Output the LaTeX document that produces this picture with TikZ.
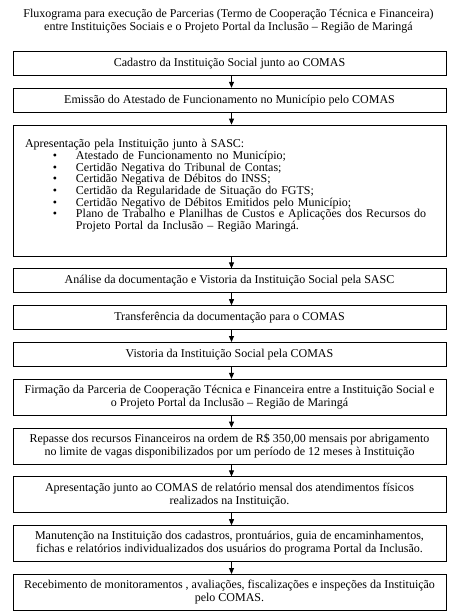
\documentclass[tikz,border=0pt]{standalone}
\usepackage{fontspec}
\setmainfont{Liberation Serif}
\usetikzlibrary{positioning, arrows.meta}

\begin{document}
\begin{tikzpicture}[x=1pt, y=1pt, >={Triangle[width=5pt, length=6pt]},
    node distance=12pt, font=\fontsize{12}{13}\selectfont,
    box/.style={draw, line width=0.8pt, minimum width=433pt,
                minimum height=24pt, inner sep=2pt, align=center},
    tallbox/.style={box, minimum height=36pt}]
  \useasboundingbox (0,0) rectangle (457,-613);

  % Title
  \node[align=center] (title) at (228.5,-21.5) {Fluxograma para execução de Parcerias (Termo de Cooperação Técnica e Financeira)\\
    entre Instituições Sociais e o Projeto Portal da Inclusão – Região de Maringá};

  % Steps
  \node[box, anchor=north] (s1) at (229.5,-51) {Cadastro da Instituição Social junto ao COMAS};
  \node[box, below=of s1] (s2) {Emissão do Atestado de Funcionamento no Município pelo COMAS};
  \node[box, below=of s2, minimum height=131pt, text width=409pt, inner xsep=12pt,
        text height=8.5pt, text depth=94pt,
        align=left, font=\fontsize{12}{11.7}\selectfont] (s3) {%
    Apresentação pela Instituição junto à SASC:\\
    \hspace*{28pt}\makebox[23pt][l]{\textbullet}Atestado de Funcionamento no Município;\\
    \hspace*{28pt}\makebox[23pt][l]{\textbullet}Certidão Negativa do Tribunal de Contas;\\
    \hspace*{28pt}\makebox[23pt][l]{\textbullet}Certidão Negativa de Débitos do INSS;\\
    \hspace*{28pt}\makebox[23pt][l]{\textbullet}Certidão da Regularidade de Situação do FGTS;\\
    \hspace*{28pt}\makebox[23pt][l]{\textbullet}Certidão Negativo de Débitos Emitidos pelo Município;\\
    \hspace*{28pt}\makebox[23pt][l]{\textbullet}Plano de Trabalho e Planilhas de Custos e Aplicações dos Recursos do\\
    \hspace*{51pt}Projeto Portal da Inclusão – Região Maringá.};
  \node[box, below=of s3] (s4) {Análise da documentação e Vistoria da Instituição Social pela SASC};
  \node[box, below=of s4] (s5) {Transferência da documentação para o COMAS};
  \node[box, below=of s5] (s6) {Vistoria da Instituição Social pela COMAS};
  \node[tallbox, below=of s6] (s7) {Firmação da Parceria de Cooperação Técnica e Financeira entre a Instituição Social e\\
    o Projeto Portal da Inclusão – Região de Maringá};
  \node[tallbox, below=of s7] (s8) {Repasse dos recursos Financeiros na ordem de R\$ 350,00 mensais por abrigamento\\
    no limite de vagas disponibilizados por um período de 12 meses à Instituição};
  \node[tallbox, below=of s8] (s9) {Apresentação junto ao COMAS de relatório mensal dos atendimentos físicos\\
    realizados na Instituição.};
  \node[tallbox, below=of s9] (s10) {Manutenção na Instituição dos cadastros, prontuários, guia de encaminhamentos,\\
    fichas e relatórios individualizados dos usuários do programa Portal da Inclusão.};
  \node[tallbox, below=of s10] (s11) {Recebimento de monitoramentos , avaliações, fiscalizações e inspeções da Instituição\\
    pelo COMAS.};

  % Arrows between steps
  \foreach \a/\b in {s1/s2, s2/s3, s3/s4, s4/s5, s5/s6, s6/s7, s7/s8, s8/s9, s9/s10, s10/s11}
    \draw[->, line width=0.8pt] ([xshift=2pt]\a.south) -- ([xshift=2pt]\b.north);
\end{tikzpicture}
\end{document}
